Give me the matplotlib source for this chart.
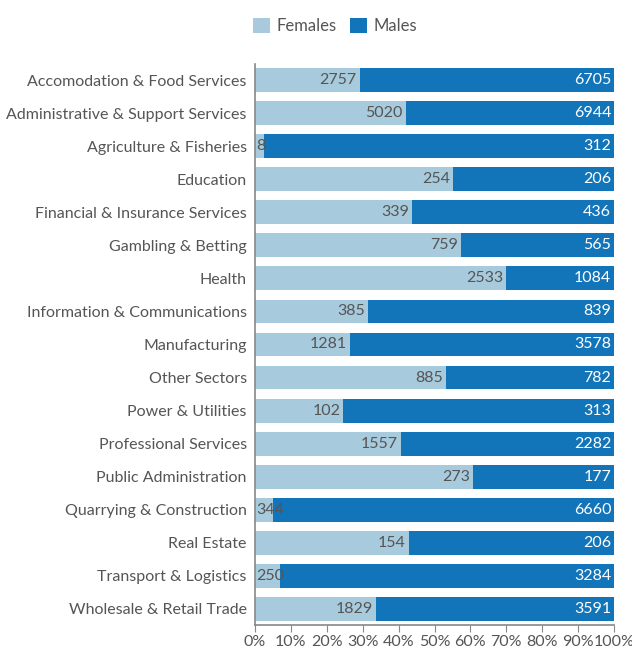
import matplotlib
matplotlib.use("Agg")
import matplotlib.pyplot as plt
from matplotlib.ticker import FuncFormatter
import numpy as np

categories = [
    "Accomodation & Food Services", "Administrative & Support Services",
    "Agriculture & Fisheries", "Education", "Financial & Insurance Services",
    "Gambling & Betting", "Health", "Information & Communications",
    "Manufacturing", "Other Sectors", "Power & Utilities",
    "Professional Services", "Public Administration",
    "Quarrying & Construction", "Real Estate", "Transport & Logistics",
    "Wholesale & Retail Trade",
]
females = [2757, 5020, 8, 254, 339, 759, 2533, 385, 1281, 885, 102, 1557, 273, 344, 154, 250, 1829]
males = [6705, 6944, 312, 206, 436, 565, 1084, 839, 3578, 782, 313, 2282, 177, 6660, 206, 3284, 3591]

FEMALE_C = "#a7cadd"
MALE_C = "#1274b9"
TEXT_C = "#555555"

plt.rcParams["font.family"] = ["Lato", "DejaVu Sans"]

f = np.array(females, dtype=float)
m = np.array(males, dtype=float)
tot = f + m
fp = f / tot * 100
mp = m / tot * 100

fig = plt.figure(figsize=(6.32, 6.48), dpi=100)
ax = fig.add_axes([255 / 632, 1 - 625 / 648, (614 - 255) / 632, (625 - 64) / 648])

y = np.arange(len(categories))
h = 0.72
ax.barh(y, fp, height=h, color=FEMALE_C, label="Females")
ax.barh(y, mp, left=fp, height=h, color=MALE_C, label="Males")

fig.canvas.draw()
renderer = fig.canvas.get_renderer()
px_per_unit = ax.bbox.width / 100.0
for i in range(len(categories)):
    t = ax.text(fp[i] - 0.8, y[i], f"{females[i]}", ha="right", va="center",
                color=TEXT_C, fontsize=11.5)
    w = t.get_window_extent(renderer).width / px_per_unit
    if fp[i] - 0.8 - w < 0.3:
        t.set_x(0.3)
        t.set_ha("left")
    ax.text(99.2, y[i], f"{males[i]}", ha="right", va="center",
            color="white", fontsize=11.5)

ax.set_xlim(0, 100)
ax.set_ylim(16.484, -0.484)
ax.set_yticks(y)
ax.set_yticklabels(categories, fontsize=11.5, color=TEXT_C)
ax.set_xticks(np.arange(0, 101, 10))
ax.xaxis.set_major_formatter(FuncFormatter(lambda v, _: f"{int(v)}%"))
ax.tick_params(axis="x", labelsize=11.5, labelcolor=TEXT_C, color="#888888",
               length=5, pad=2)
ax.tick_params(axis="y", length=0, pad=6)
for s in ["top", "right"]:
    ax.spines[s].set_visible(False)
for s in ["left", "bottom"]:
    ax.spines[s].set_color("#888888")
    ax.spines[s].set_linewidth(1.2)

leg = fig.legend(loc="upper center", bbox_to_anchor=(0.53, 0.995), ncol=2,
                 frameon=False, fontsize=12, handlelength=1.0, handleheight=1.0,
                 handletextpad=0.4, columnspacing=0.8)
for t in leg.get_texts():
    t.set_color(TEXT_C)

fig.savefig("out.png", dpi=100)
